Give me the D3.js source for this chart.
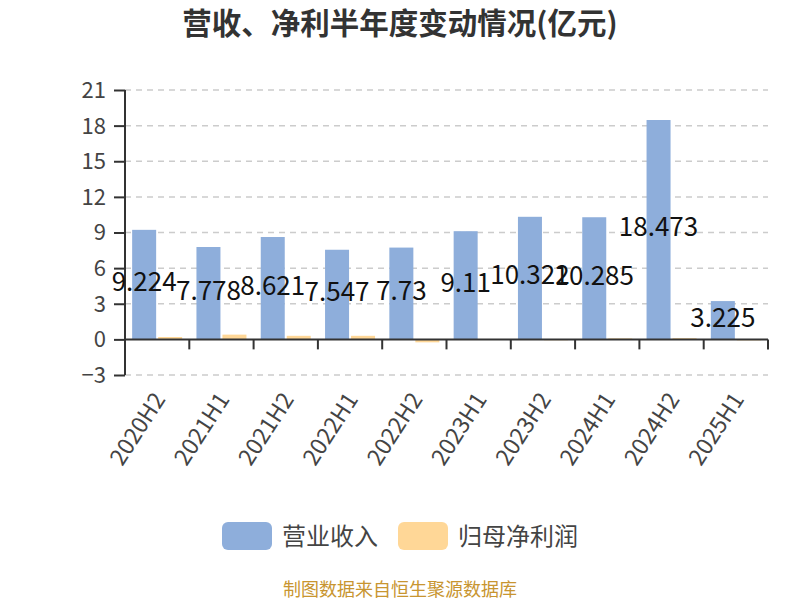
<!DOCTYPE html>
<html><head><meta charset="utf-8">
<script src="https://cdn.jsdelivr.net/npm/d3@7"></script>
<style>body{margin:0;background:#fff;font-family:"Noto Sans CJK SC",sans-serif;}</style>
</head><body><svg id="c" width="800" height="600"></svg>
<script>
const categories = ["2020H2","2021H1","2021H2","2022H1","2022H2","2023H1","2023H2","2024H1","2024H2","2025H1"];
const revenue = [9.224, 7.778, 8.621, 7.547, 7.73, 9.11, 10.322, 10.285, 18.473, 3.225];
const netProfit = [0.2, 0.4, 0.3, 0.3, -0.25, 0.03, 0.01, 0.08, 0.1, -0.03];
const yTicks = [-3, 0, 3, 6, 9, 12, 15, 18, 21];
const seriesNames = ["营业收入", "归母净利润"];
const colors = ["#8eaedb", "#ffd797"];

(function(){
const svg = d3.select("#c");
const mLeft = 125, mRight = 768, mTop = 90, mBottom = 375;
const x = d3.scaleBand().domain(categories).range([mLeft, mRight]);
const y = d3.scaleLinear().domain([-3, 21]).range([mBottom, mTop]);
const cjk = '"Noto Sans CJK SC","Open Sans",sans-serif';

svg.append("text").attr("x", 400).attr("y", 34).attr("text-anchor", "middle")
  .style("font-family", cjk).style("font-weight", "bold").style("font-size", "29.5px").attr("fill", "#333")
  .text("营收、净利半年度变动情况(亿元)");

// grid
svg.append("g").selectAll("line").data(yTicks.filter(d => d !== 0)).join("line")
  .attr("x1", mLeft).attr("x2", mRight).attr("y1", d => y(d)).attr("y2", d => y(d))
  .attr("stroke", "#ccc").attr("stroke-width", 1.5).attr("stroke-dasharray", "6,5");

// y axis
const ya = svg.append("g").attr("transform", `translate(${mLeft},0)`)
  .call(d3.axisLeft(y).tickValues(yTicks).tickSize(11).tickPadding(8));
ya.select(".domain").attr("stroke", "#333").attr("stroke-width", 2).attr("d", `M0,${mTop}V${mBottom}`);
ya.selectAll(".tick line").attr("stroke", "#333").attr("stroke-width", 2);
ya.selectAll(".tick text").style("font-size", "22px").style("font-family", cjk).attr("fill", "#444").attr("dy", "0.34em");

const inner = 24, gap = 2;
const gBars = svg.append("g");
gBars.selectAll("rect.rev").data(categories).join("rect").attr("class", "rev")
  .attr("x", (d) => x(d) + x.bandwidth() / 2 - gap / 2 - inner)
  .attr("width", inner)
  .attr("y", (d, i) => y(Math.max(0, revenue[i])))
  .attr("height", (d, i) => Math.abs(y(revenue[i]) - y(0)))
  .attr("fill", colors[0]);
gBars.selectAll("rect.np").data(categories).join("rect").attr("class", "np")
  .attr("x", (d) => x(d) + x.bandwidth() / 2 + gap / 2)
  .attr("width", inner)
  .attr("y", (d, i) => y(Math.max(0, netProfit[i])))
  .attr("height", (d, i) => Math.max(1, Math.abs(y(netProfit[i]) - y(0))))
  .attr("fill", colors[1]);

// x axis
const xa = svg.append("g").attr("transform", `translate(0,${y(0)})`)
  .call(d3.axisBottom(x).tickSize(0).tickPadding(0));
xa.select(".domain").attr("stroke", "#333").attr("stroke-width", 2).attr("d", `M${mLeft},0H${mRight}`);
xa.selectAll(".tick text").remove();
svg.append("g").selectAll("line").data(d3.range(categories.length + 1)).join("line")
  .attr("x1", i => mLeft + i * x.step()).attr("x2", i => mLeft + i * x.step())
  .attr("y1", y(0)).attr("y2", y(0) + 10).attr("stroke", "#333").attr("stroke-width", 2);

// x labels rotated
svg.append("g").selectAll("text").data(categories).join("text")
  .attr("transform", d => `translate(${x(d) + x.bandwidth() / 2 + 9},${y(0) + 60}) rotate(-57)`)
  .attr("text-anchor", "end")
  .style("font-size", "23px").style("font-family", cjk).attr("fill", "#444")
  .text(d => d);

// value labels
svg.append("g").selectAll("text").data(categories).join("text")
  .attr("x", d => x(d) + x.bandwidth() / 2 - gap / 2 - inner / 2)
  .attr("y", (d, i) => y(revenue[i] / 2) - 3)
  .attr("text-anchor", "middle").attr("dy", "0.36em")
  .style("font-size", "26px").style("font-family", cjk).attr("fill", "#111")
  .text((d, i) => revenue[i]);

// legend
const lg = svg.append("g");
const lx = [222, 398];
seriesNames.forEach((n, i) => {
  lg.append("rect").attr("x", lx[i]).attr("y", 522).attr("width", 50).attr("height", 28).attr("rx", 6).attr("fill", colors[i]);
  lg.append("text").attr("x", lx[i] + 60).attr("y", 536).attr("dy", "0.36em")
    .style("font-family", cjk).style("font-size", "24px").attr("fill", "#444").text(n);
});

svg.append("text").attr("x", 400).attr("y", 590).attr("dy", "0.36em").attr("text-anchor", "middle")
  .style("font-family", cjk).style("font-size", "18px").attr("fill", "#c89530").text("制图数据来自恒生聚源数据库");
})();
</script></body></html>
